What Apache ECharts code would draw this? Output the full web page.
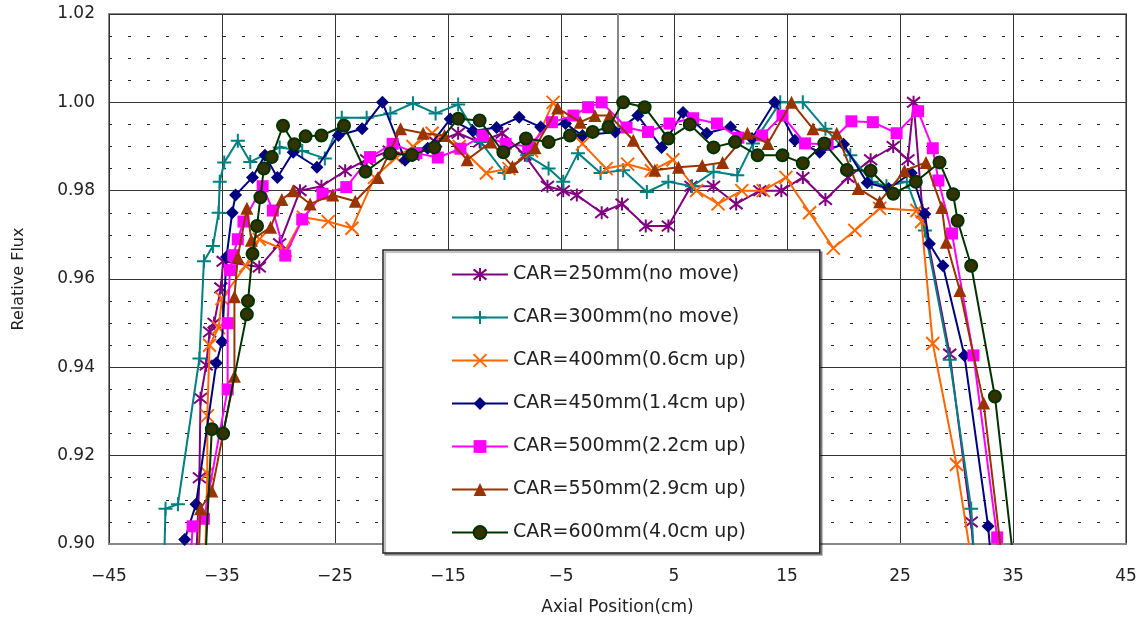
<!DOCTYPE html>
<html>
<head>
<meta charset="utf-8">
<title>Relative Flux</title>
<script src="https://cdn.jsdelivr.net/npm/echarts@6/dist/echarts.min.js"></script>
<style>
  html, body { margin: 0; padding: 0; background: #fff; }
  #chart { width: 1147px; height: 625px; }
</style>
</head>
<body>
<div id="chart"></div>
<script>
// 범례 이름
const seriesNames = [
  'CAR=250mm(no move)',
  'CAR=300mm(no move)',
  'CAR=400mm(0.6cm up)',
  'CAR=450mm(1.4cm up)',
  'CAR=500mm(2.2cm up)',
  'CAR=550mm(2.9cm up)',
  'CAR=600mm(4.0cm up)'
]

// [axial position(cm), relative flux]
const car250 = [
  [-37.3,0.895],[-37.0,0.915],[-36.9,0.933],[-36.4,0.9405],[-36.1,0.948],[-35.7,0.950],[-35.1,0.958],
  [-34.9,0.964],[-31.7,0.9627],[-29.9,0.968],[-28.1,0.980],[-26.2,0.981],[-24.1,0.9845],[-22.2,0.987],
  [-20.2,0.989],[-18.1,0.988],[-16.1,0.991],[-14.1,0.993],[-12.2,0.991],[-10.2,0.993],[-8.2,0.988],
  [-6.2,0.981],[-4.8,0.980],[-3.6,0.979],[-1.4,0.975],[0.4,0.977],[2.5,0.972],[4.5,0.972],[6.5,0.981],
  [8.5,0.981],[10.5,0.977],[12.6,0.980],[14.5,0.980],[16.4,0.983],[18.4,0.978],[20.4,0.983],[22.4,0.987],
  [24.4,0.990],[25.7,0.987],[26.2,1.000],[27.0,0.975],[29.4,0.943],[31.3,0.905],[31.6,0.895]
]
const car300 = [
  [-40.1,0.898],[-40.0,0.908],[-38.9,0.909],[-37.0,0.942],[-36.6,0.964],[-35.8,0.9675],[-35.3,0.975],
  [-35.2,0.982],[-34.8,0.9864],[-33.6,0.9913],[-32.5,0.9865],[-29.9,0.9898],[-27.9,0.989],[-25.9,0.9873],
  [-24.4,0.9965],[-22.2,0.9965],[-20.1,0.9975],[-18.1,0.9998],[-16.1,0.9975],[-14.1,0.9995],[-12.1,0.991],
  [-10.0,0.984],[-8.0,0.988],[-6.1,0.985],[-4.8,0.982],[-3.5,0.9885],[-1.5,0.984],[0.5,0.9846],[2.6,0.9797],
  [4.5,0.982],[6.6,0.981],[8.5,0.9843],[10.6,0.9835],[12.0,0.9907],[14.4,1.000],[16.4,1.000],[18.4,0.994],
  [20.6,0.988],[22.5,0.982],[23.8,0.981],[25.6,0.982],[27.2,0.971],[29.4,0.9417],[31.3,0.908],[31.6,0.895]
]
const car400 = [
  [-36.5,0.895],[-36.3,0.916],[-36.3,0.929],[-36.1,0.945],[-35.3,0.949],[-35.0,0.9556],[-32.9,0.963],
  [-31.7,0.969],[-29.4,0.9665],[-27.8,0.974],[-25.6,0.973],[-23.5,0.9715],[-21.5,0.983],[-19.6,0.9875],
  [-18.1,0.990],[-16.4,0.993],[-14.0,0.990],[-11.6,0.984],[-9.6,0.985],[-7.6,0.989],[-5.7,1.000],[-3.1,0.9906],
  [-1.0,0.985],[0.9,0.986],[3.0,0.9845],[4.9,0.987],[7.0,0.980],[8.9,0.977],[11.0,0.980],[12.9,0.980],
  [14.9,0.983],[17.0,0.975],[19.1,0.967],[21.0,0.971],[23.2,0.976],[26.5,0.9755],[26.9,0.973],[27.9,0.9454],
  [30.0,0.918],[31.4,0.895]
]
const car450 = [
  [-38.5,0.895],[-38.3,0.901],[-37.3,0.909],[-35.5,0.941],[-35.0,0.9458],[-34.6,0.965],[-34.1,0.975],
  [-33.8,0.979],[-32.3,0.983],[-31.2,0.988],[-30.1,0.983],[-28.7,0.9887],[-26.6,0.9853],[-24.7,0.9925],
  [-22.6,0.994],[-20.8,1.000],[-18.8,0.9869],[-16.8,0.9896],[-14.8,0.9962],[-12.8,0.9935],[-10.7,0.9943],
  [-8.7,0.9966],[-6.8,0.9944],[-4.6,0.9952],[-3.1,0.9925],[-0.2,0.9933],[1.8,0.997],[3.9,0.9898],[5.8,0.9977],
  [7.9,0.993],[10.0,0.9944],[11.9,0.9918],[13.9,1.000],[15.7,0.9914],[17.9,0.9887],[20.0,0.9905],[22.1,0.9818],
  [24.0,0.9805],[26.0,0.984],[27.2,0.9747],[27.6,0.968],[28.8,0.963],[30.7,0.9427],[32.8,0.904],[33.1,0.895]
]
const car500 = [
  [-37.8,0.895],[-37.6,0.904],[-36.6,0.9057],[-34.5,0.935],[-34.5,0.950],[-34.3,0.962],[-34.0,0.9654],
  [-33.6,0.969],[-33.1,0.973],[-31.4,0.981],[-30.5,0.9755],[-29.4,0.9653],[-27.9,0.9735],[-26.1,0.9793],
  [-24.0,0.9808],[-21.9,0.9876],[-19.9,0.9906],[-17.8,0.9885],[-15.9,0.9875],[-13.9,0.9895],[-11.9,0.9925],
  [-9.9,0.9906],[-7.9,0.990],[-5.8,0.9955],[-3.9,0.997],[-2.6,0.9989],[-1.4,1.000],[0.8,0.9943],[2.7,0.9933],
  [4.6,0.9952],[6.7,0.9964],[8.8,0.9952],[10.7,0.992],[12.8,0.9925],[14.6,0.997],[16.6,0.9907],[18.6,0.9905],
  [20.7,0.9957],[22.6,0.9955],[24.7,0.993],[26.6,0.998],[27.9,0.9896],[28.4,0.9823],[29.6,0.9703],
  [31.5,0.9427],[33.6,0.9015],[33.7,0.895]
]
const car550 = [
  [-37.1,0.895],[-36.9,0.908],[-35.9,0.912],[-33.9,0.938],[-33.9,0.956],[-33.6,0.965],[-32.8,0.976],
  [-32.4,0.9688],[-30.7,0.9717],[-29.7,0.978],[-28.7,0.980],[-27.2,0.977],[-25.2,0.979],[-23.2,0.9776],
  [-21.2,0.983],[-19.2,0.994],[-17.2,0.993],[-15.3,0.9925],[-13.3,0.987],[-11.2,0.991],[-9.3,0.9855],
  [-7.3,0.9897],[-5.3,0.9987],[-3.3,0.9955],[-2.0,0.997],[-0.7,0.997],[1.4,0.9914],[3.3,0.9846],[5.4,0.9853],
  [7.5,0.9857],[9.3,0.9864],[11.5,0.993],[13.3,0.9907],[15.4,1.000],[17.3,0.994],[19.4,0.993],[21.3,0.9805],
  [23.2,0.9775],[25.4,0.9845],[27.3,0.9864],[28.7,0.9762],[29.1,0.9683],[30.3,0.9574],[32.4,0.9319],[34.1,0.895]
]
const car600 = [
  [-36.5,0.895],[-35.9,0.926],[-34.9,0.925],[-32.8,0.952],[-32.7,0.955],[-32.3,0.9657],[-31.9,0.972],
  [-31.6,0.9785],[-31.3,0.985],[-30.6,0.9876],[-29.6,0.9947],[-28.6,0.9905],[-27.6,0.9923],[-26.2,0.9925],
  [-24.2,0.9947],[-22.3,0.9843],[-20.1,0.9884],[-18.2,0.9881],[-16.2,0.9898],[-14.1,0.9963],[-12.2,0.9959],
  [-10.1,0.9887],[-8.1,0.9918],[-6.1,0.991],[-4.2,0.9925],[-2.2,0.9933],[-0.8,0.9944],[0.5,1.000],[2.4,0.9989],
  [4.5,0.9918],[6.4,0.995],[8.5,0.9898],[10.4,0.991],[12.4,0.988],[14.6,0.988],[16.4,0.9862],[18.3,0.9907],
  [20.3,0.9847],[22.4,0.9845],[24.4,0.9793],[26.4,0.982],[28.5,0.9864],[29.7,0.9792],[30.1,0.9732],
  [31.3,0.963],[33.4,0.9334],[35.1,0.895]
]

const allData = [car250, car300, car400, car450, car500, car550, car600]

// 마커
const STAR = 'path://M5,0L5,10M1,1L9,9M9,1L1,9'
const PLUS = 'path://M5,0L5,10M0,5L10,5'
const CROSS = 'path://M0,0L10,10M10,0L0,10'

const styles = [
  { line: '#800080', fill: '#800080', border: '#800080', bw: 2, symbol: STAR, size: 13 },
  { line: '#008080', fill: '#008080', border: '#008080', bw: 2, symbol: PLUS, size: 14 },
  { line: '#ff6600', fill: '#ff6600', border: '#ff6600', bw: 2, symbol: CROSS, size: 13 },
  { line: '#000080', fill: '#000080', border: '#000080', bw: 0, symbol: 'diamond', size: 13 },
  { line: '#ff00ff', fill: '#ff00ff', border: '#ff00ff', bw: 0, symbol: 'rect', size: 12 },
  { line: '#993300', fill: '#993300', border: '#993300', bw: 0, symbol: 'triangle', size: 13 },
  { line: '#003300', fill: '#333300', border: '#003300', bw: 2, symbol: 'circle', size: 12 }
]

const FONT = 'DejaVu Sans'

const chart = echarts.init(document.getElementById('chart'))

const series = allData.map((d, i) => ({
  name: seriesNames[i],
  type: 'line',
  data: d,
  symbol: styles[i].symbol,
  symbolSize: styles[i].size,
  clip: true,
  lineStyle: { color: styles[i].line, width: 2 },
  itemStyle: { color: styles[i].fill, borderColor: styles[i].border, borderWidth: styles[i].bw },
  emphasis: { disabled: true },
  z: 2 + i
}))

chart.setOption({
  animation: false,
  backgroundColor: '#fff',
  grid: {
    left: 109, right: 21, top: 14, bottom: 81,
    show: true, borderColor: '#888', borderWidth: 2, backgroundColor: 'transparent'
  },
  legend: {
    orient: 'vertical',
    left: 383,
    top: 250,
    data: seriesNames,
    itemWidth: 56,
    itemHeight: 16,
    itemGap: 24,
    padding: [15, 74, 11, 68],
    backgroundColor: '#fff',
    borderColor: '#222',
    borderWidth: 1.5,
    shadowColor: 'rgba(0,0,0,0.35)',
    shadowOffsetX: 2,
    shadowOffsetY: 2,
    shadowBlur: 1,
    textStyle: { fontFamily: FONT, fontSize: 19, color: '#222' },
    z: 10
  },
  xAxis: {
    type: 'value',
    min: -45,
    max: 45,
    interval: 10,
    name: 'Axial Position(cm)',
    nameLocation: 'middle',
    nameGap: 55,
    nameTextStyle: { fontFamily: FONT, fontSize: 17, color: '#222' },
    axisLine: { show: true, lineStyle: { color: '#888', width: 2 } },
    axisTick: { show: false },
    axisLabel: {
      margin: 24,
      fontFamily: FONT, fontSize: 17, color: '#222',
      formatter: v => String(v).replace('-', '\u2212')
    },
    splitLine: { show: true, lineStyle: { color: '#333', width: 1 } }
  },
  yAxis: {
    type: 'value',
    min: 0.90,
    max: 1.02,
    interval: 0.02,
    name: 'Relative Flux',
    nameLocation: 'middle',
    nameRotate: 90,
    nameGap: 82,
    nameTextStyle: { fontFamily: FONT, fontSize: 16, color: '#222' },
    axisLine: { show: true, lineStyle: { color: '#888', width: 2 } },
    axisTick: { show: false },
    axisLabel: {
      margin: 14,
      fontFamily: FONT, fontSize: 17, color: '#222',
      formatter: v => v.toFixed(2)
    },
    splitLine: { show: true, lineStyle: { color: '#333', width: 1 } },
    minorTick: { show: false, splitNumber: 4 },
    minorSplitLine: { show: true, lineStyle: { color: '#222', width: 1, type: [3, 16] } }
  },
  series: series
})
</script>
</body>
</html>
